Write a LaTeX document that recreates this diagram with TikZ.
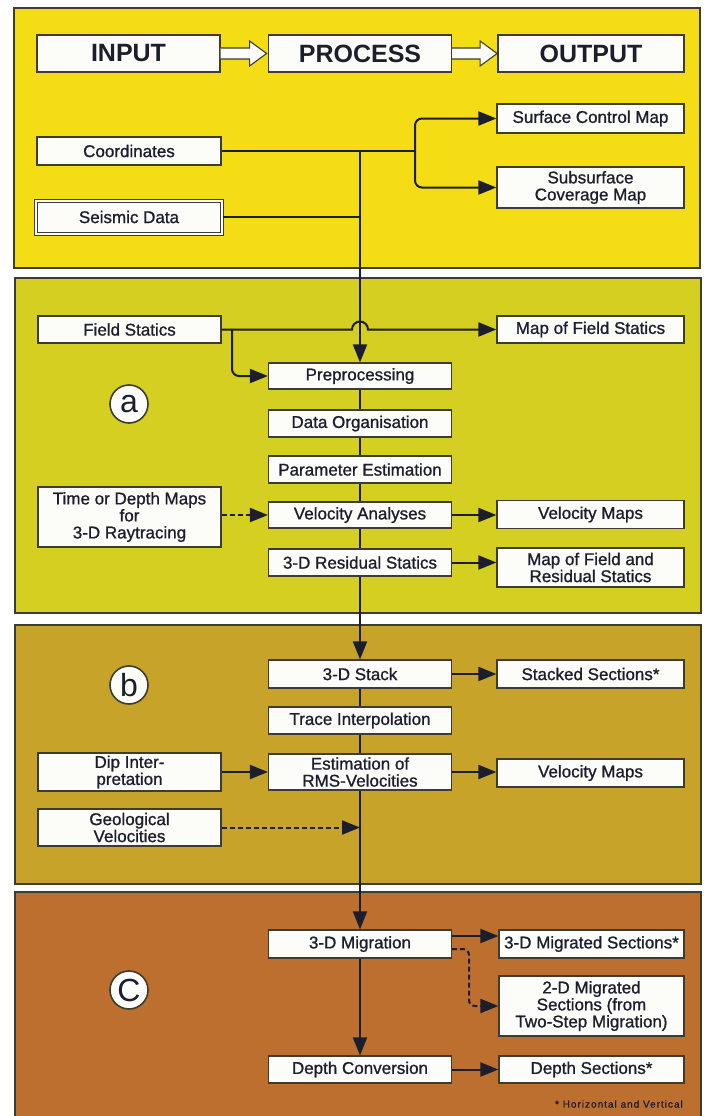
\documentclass[tikz,border=0pt]{standalone}
\usepackage{fontspec}
\setmainfont{Liberation Sans}
\newfontfamily\boxfont[FakeBold=1]{Liberation Sans}
\usetikzlibrary{arrows.meta}
\definecolor{pY}{RGB}{245,221,22}
\definecolor{pA}{RGB}{212,207,32}
\definecolor{pB}{RGB}{199,163,42}
\definecolor{pC}{RGB}{189,111,48}
\definecolor{ink}{RGB}{28,30,45}
\definecolor{edge}{RGB}{60,60,50}
\definecolor{boxfill}{RGB}{252,252,248}
\begin{document}
\begin{tikzpicture}[x=1pt,y=-1pt,
 panel/.style={draw=edge, line width=1.2pt},
 box/.style={draw=edge, fill=boxfill, line width=1.2pt, inner sep=1pt, align=center, text=ink, font=\fontsize{17}{17}\boxfont},
 bigbox/.style={box, font=\fontsize{25}{25}\selectfont\bfseries},
 pbox/.style={box, minimum width=183pt},
 lbox/.style={box, minimum width=184pt},
 rbox/.style={box, minimum width=187pt},
 conn/.style={draw=ink, line width=2pt},
 arr/.style={conn, -{Triangle[length=18pt,width=14pt]}},
 darr/.style={arr, dash pattern=on 5pt off 3pt},
 lbl/.style={circle, draw=edge, fill=boxfill, line width=1.6pt, minimum size=38pt, inner sep=0pt, text=ink, font=\fontsize{32}{32}\selectfont},
 hollow/.style={draw=edge, fill=boxfill, line width=1.1pt}
]
\useasboundingbox (0,0) rectangle (704,1116);
\fill[white] (0,0) rectangle (704,1116);
% panels
\draw[panel, fill=pY] (14,8) rectangle (700,268);
\draw[panel, fill=pA] (15,278) rectangle (701,613);
\draw[panel, fill=pB] (15,625) rectangle (701,884);
\draw[panel, fill=pC] (15,892) rectangle (701,1122);

% header
\node[bigbox, minimum width=183pt, minimum height=37pt] (in) at (128.5,53.5) {INPUT};
\node[bigbox, minimum width=183pt, minimum height=37pt] (proc) at (360,53.5) {PROCESS};
\node[bigbox, minimum width=186pt, minimum height=37pt] (out) at (591,53.5) {OUTPUT};
\draw[hollow] ([yshift=5.5pt]in.east) -- ++(29,0) -- ++(0,-7) -- ++(17,12.5) -- ++(-17,12.5) -- ++(0,-7) -- ++(-29,0);
\draw[hollow] ([yshift=5.5pt]proc.east) -- ++(28,0) -- ++(0,-7) -- ++(17,12.5) -- ++(-17,12.5) -- ++(0,-7) -- ++(-28,0);

% top panel
\node[rbox, minimum height=29pt] (surf) at (590.5,118.5) {Surface Control Map};
\node[lbox, minimum height=28pt] (coord) at (129,151) {Coordinates};
\node[rbox, minimum height=41pt] (subs) at (590.5,187.5) {Subsurface\\Coverage Map};
\node[box, minimum width=186pt, minimum height=33pt, double=boxfill, double distance=2pt, line width=1pt] (seis) at (129,217) {Seismic Data};

\coordinate (j1) at (415,151);
\coordinate (t0) at (360,151);
\coordinate (t1) at (360,217);
\draw[conn] (coord.east) -- (j1);
\draw[arr, rounded corners=7pt] (j1) |- (surf.west);
\draw[arr, rounded corners=7pt] (j1) |- (subs.west);
\draw[conn] (seis.east) -- (t1);

% panel a
\node[lbl] (la) at (129,404) {a};
\node[pbox, minimum height=27pt] (fs) at (129.5,329.5) {Field Statics};
\node[rbox, minimum height=27pt] (mfs) at (590.5,329.5) {Map of Field Statics};
\node[pbox, minimum height=26pt] (pre) at (360,376) {Preprocessing};
\node[pbox, minimum height=27pt] (dorg) at (360,423.5) {Data Organisation};
\node[pbox, minimum height=27pt] (pest) at (360,469.5) {Parameter Estimation};
\node[pbox, minimum height=26pt] (vana) at (360,515) {Velocity Analyses};
\node[rbox, minimum height=28pt] (vmapa) at (590.5,514.5) {Velocity Maps};
\node[pbox, minimum height=60pt] (tdm) at (129.5,517) {Time or Depth Maps\\for\\3-D Raytracing};
\node[pbox, minimum height=27pt] (rstat) at (360,562.5) {3-D Residual Statics};
\node[rbox, minimum height=39pt] (mfrs) at (590.5,567.5) {Map of Field and\\Residual Statics};

\coordinate (fb) at (232,329.5);
\draw[arr] (t0) -- (pre.north);
\draw[arr] (fs.east) -- (352,329.5) arc[start angle=180, end angle=360, radius=8] -- (mfs.west);
\draw[arr, rounded corners=7pt] (fb) |- (pre.west);
\draw[conn] (pre) -- (dorg);
\draw[conn] (dorg) -- (pest);
\draw[conn] (pest) -- (vana);
\draw[conn] (vana) -- (rstat);
\draw[darr] (tdm.east |- vana.west) -- (vana.west);
\draw[arr] (vana.east) -- (vana.east -| vmapa.west);
\draw[arr] (rstat.east) -- (rstat.east -| mfrs.west);

% panel b
\node[lbl] (lb) at (129,685) {b};
\node[pbox, minimum height=28pt] (stack) at (360,674) {3-D Stack};
\node[rbox, minimum height=28pt] (ss) at (590.5,674) {Stacked Sections*};
\node[pbox, minimum height=27pt] (tint) at (360,720.5) {Trace Interpolation};
\node[pbox, minimum height=36pt] (rms) at (360,772) {Estimation of\\RMS-Velocities};
\node[pbox, minimum height=38pt] (dip) at (129.5,772) {Dip Inter-\\pretation};
\node[rbox, minimum height=28pt] (vmapb) at (590.5,773) {Velocity Maps};
\node[pbox, minimum height=37pt] (geo) at (129.5,827.5) {Geological\\Velocities};
\coordinate (g1) at (360,827.5);

\draw[arr] (rstat) -- (stack);
\draw[arr] (stack) -- (ss);
\draw[conn] (stack) -- (tint);
\draw[conn] (tint) -- (rms);
\draw[arr] (dip) -- (rms);
\draw[arr] (rms.east) -- (rms.east -| vmapb.west);
\draw[darr] (geo.east) -- (g1);

% panel c
\node[lbl] (lc) at (129,990) {C};
\node[pbox, minimum height=28pt] (mig) at (360,944) {3-D Migration};
\node[box, minimum width=185pt, minimum height=28pt] (m3) at (591.5,944) {3-D Migrated Sections*};
\node[box, minimum width=185pt, minimum height=60pt] (m2) at (591.5,1006) {2-D Migrated\\Sections (from\\Two-Step Migration)};
\node[pbox, minimum height=27pt] (depth) at (360,1069.5) {Depth Conversion};
\node[box, minimum width=185pt, minimum height=27pt] (ds) at (591.5,1069.5) {Depth Sections*};
\node[anchor=east, text=ink, inner sep=0pt, font=\fontsize{10}{10}\boxfont\addfontfeature{LetterSpace=10}] (fn) at (683,1104) {* Horizontal and Vertical};

\coordinate (ma) at ([yshift=8pt]mig.east);
\coordinate (mb) at ([yshift=-5pt]mig.east);
\coordinate (mk) at (469,949);
\draw[arr] (rms) -- (mig);
\draw[arr] (ma) -- (ma -| m3.west);
\draw[darr, rounded corners=6pt] (mb) -- (mk) |- (m2.west);
\draw[arr] (mig) -- (depth);
\draw[arr] (depth) -- (ds);
\end{tikzpicture}
\end{document}
